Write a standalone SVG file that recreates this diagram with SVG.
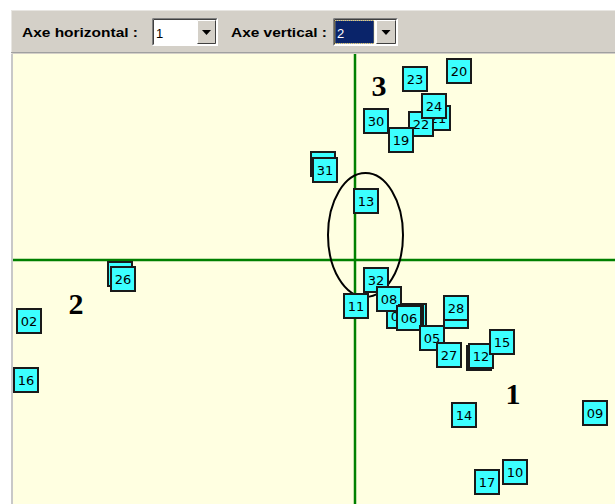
<svg xmlns="http://www.w3.org/2000/svg" width="615" height="504" viewBox="0 0 615 504">
<style>
.tb{font-family:"Liberation Sans",Arial,sans-serif;font-weight:bold;font-size:13px;fill:#000}
.n rect{fill:#3cffff;stroke:#1a1a1a;stroke-width:2}
.n text{font-family:"DejaVu Sans",Verdana,sans-serif;font-size:13px;fill:#000;text-anchor:middle}
.big{font-family:"Liberation Serif","Times New Roman",serif;font-weight:bold;font-size:30px;fill:#000;text-anchor:middle}
.ax{stroke:#008000;stroke-width:2.5;fill:none}
</style>
<rect x="0" y="0" width="615" height="504" fill="#ffffff"/>
<g id="toolbar">
<rect x="11" y="10" width="604" height="44" fill="#d4d0c8"/>
<line x1="11" y1="10.5" x2="615" y2="10.5" stroke="#e8e6e2"/>
<line x1="11.5" y1="10" x2="11.5" y2="54" stroke="#e8e6e2"/>
<line x1="11" y1="52.5" x2="615" y2="52.5" stroke="#a0a0a0"/>
<text class="tb" x="22" y="37" textLength="116" lengthAdjust="spacingAndGlyphs">Axe horizontal :</text>
<g id="combo1">
<rect x="152" y="18" width="66" height="28" fill="#ffffff"/>
<path d="M152.5 45.5V18.5H217.5" stroke="#808080" fill="none"/>
<path d="M153.5 44.5V19.5H216.5" stroke="#404040" fill="none"/>
<path d="M152.5 45.5H217.5V18.5" stroke="#ffffff" fill="none"/>
<rect x="197" y="20" width="19" height="24" fill="#d4d0c8"/>
<path d="M197.5 43.5V20.5H215.5" stroke="#ffffff" fill="none"/>
<path d="M197.5 43.5H215.5V20.5" stroke="#404040" fill="none"/>
<path d="M202 30H211L206.5 35Z" fill="#000"/>
<text x="156" y="38" font-family="Liberation Sans,Arial,sans-serif" font-size="13" fill="#000">1</text>
</g>
<text class="tb" x="231" y="37" textLength="96" lengthAdjust="spacingAndGlyphs">Axe vertical :</text>
<g id="combo2">
<rect x="333" y="18" width="65" height="28" fill="#ffffff"/>
<path d="M333.5 45.5V18.5H397.5" stroke="#808080" fill="none"/>
<path d="M334.5 44.5V19.5H396.5" stroke="#404040" fill="none"/>
<rect x="335" y="20.5" width="39" height="23" fill="#0a246a" stroke="#e8d070" stroke-dasharray="1 1"/>
<rect x="376" y="20" width="20" height="24" fill="#d4d0c8"/>
<path d="M376.5 43.5V20.5H395.5" stroke="#ffffff" fill="none"/>
<path d="M376.5 43.5H395.5V20.5" stroke="#404040" fill="none"/>
<path d="M381.5 30H390.5L386 35Z" fill="#000"/>
<text x="337" y="38" font-family="Liberation Sans,Arial,sans-serif" font-size="13" fill="#ffffff">2</text>
</g>
</g>
<rect x="13" y="54" width="602" height="450" fill="#ffffe1"/>
<rect x="11" y="54" width="2" height="450" fill="#c8c8c8"/>
<g id="axes">
<line class="ax" x1="355" y1="54" x2="355" y2="504"/>
<line class="ax" x1="13" y1="260" x2="615" y2="260"/>
</g>
<g id="connectors">
<ellipse cx="365.5" cy="235" rx="37.5" ry="62" fill="none" stroke="#000" stroke-width="2"/>
</g>
<text class="big" x="379" y="96">3</text>
<text class="big" x="76" y="314">2</text>
<text class="big" x="513" y="404">1</text>
<g id="n20" class="n"><rect x="447" y="59" width="24" height="24"/><text x="459" y="76">20</text></g>
<g id="n23" class="n"><rect x="403" y="67" width="24" height="24"/><text x="415" y="84">23</text></g>
<g id="n21" class="n"><rect x="426" y="106" width="24" height="24"/><text x="438" y="123">21</text></g>
<g id="n22" class="n"><rect x="409" y="112" width="24" height="24"/><text x="421" y="129">22</text></g>
<g id="n24" class="n"><rect x="422" y="94" width="24" height="24"/><text x="434" y="111">24</text></g>
<g id="n30" class="n"><rect x="364" y="109" width="24" height="24"/><text x="376" y="126">30</text></g>
<g id="n19" class="n"><rect x="389" y="128" width="24" height="24"/><text x="401" y="145">19</text></g>
<g id="hidden-a" class="n"><rect x="311" y="152" width="24" height="24"/></g>
<g id="n31" class="n"><rect x="313" y="158" width="24" height="24"/><text x="325" y="175">31</text></g>
<g id="n13" class="n"><rect x="354" y="189" width="24" height="24"/><text x="366" y="206">13</text></g>
<g id="hidden-b" class="n"><rect x="108" y="262" width="24" height="24"/></g>
<g id="n26" class="n"><rect x="111" y="267" width="24" height="24"/><text x="123" y="284">26</text></g>
<g id="n02" class="n"><rect x="17" y="309" width="24" height="24"/><text x="29" y="326">02</text></g>
<g id="n16" class="n"><rect x="14" y="368" width="24" height="24"/><text x="26" y="385">16</text></g>
<g id="n11" class="n"><rect x="344" y="294" width="24" height="24"/><text x="356" y="311">11</text></g>
<g id="n32" class="n"><rect x="364" y="268" width="24" height="24"/><text x="376" y="285">32</text></g>
<g id="n04" class="n"><rect x="387" y="304" width="24" height="24"/><text x="399" y="321">04</text></g>
<g id="n08" class="n"><rect x="377" y="287" width="24" height="24"/><text x="389" y="304">08</text></g>
<g id="hidden-c" class="n"><rect x="402" y="304" width="24" height="24"/></g>
<g id="hidden-d" class="n"><rect x="399" y="305" width="24" height="24"/></g>
<g id="n06" class="n"><rect x="397" y="306" width="24" height="24"/><text x="409" y="323">06</text></g>
<g id="hidden-e" class="n"><rect x="444" y="304" width="24" height="24"/></g>
<g id="n28" class="n"><rect x="444" y="296" width="24" height="24"/><text x="456" y="313">28</text></g>
<g id="n05" class="n"><rect x="420" y="326" width="24" height="24"/><text x="432" y="343">05</text></g>
<g id="n27" class="n"><rect x="437" y="343" width="24" height="24"/><text x="449" y="360">27</text></g>
<g id="hidden-f" class="n"><rect x="467" y="346" width="24" height="24"/></g>
<g id="n12" class="n"><rect x="469" y="344" width="24" height="24"/><text x="481" y="361">12</text></g>
<g id="n15" class="n"><rect x="490" y="330" width="24" height="24"/><text x="502" y="347">15</text></g>
<g id="n14" class="n"><rect x="452" y="403" width="24" height="24"/><text x="464" y="420">14</text></g>
<g id="n09" class="n"><rect x="583" y="401" width="24" height="24"/><text x="595" y="418">09</text></g>
<g id="n10" class="n"><rect x="503" y="460" width="24" height="24"/><text x="515" y="477">10</text></g>
<g id="n17" class="n"><rect x="475" y="470" width="24" height="24"/><text x="487" y="487">17</text></g>
</svg>
